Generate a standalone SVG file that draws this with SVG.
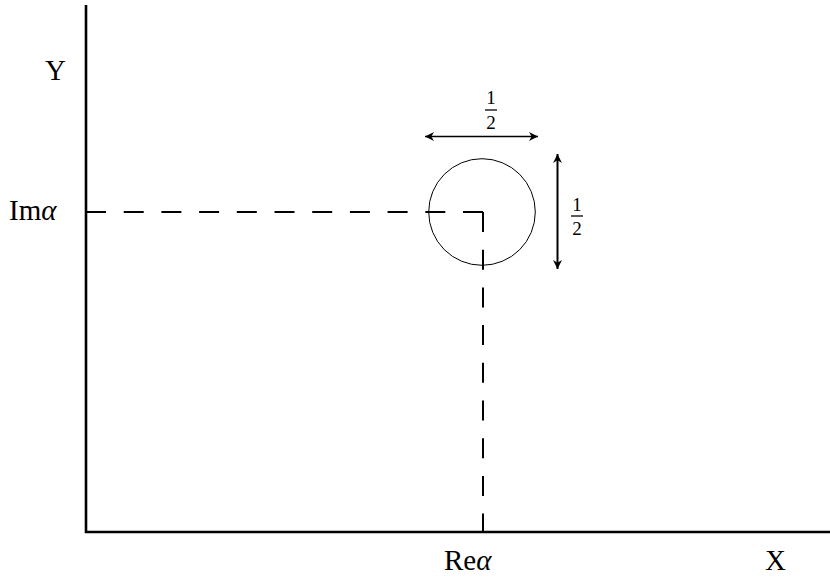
<svg xmlns="http://www.w3.org/2000/svg" width="830" height="578" viewBox="0 0 830 578">
<style>
text{font-family:"Liberation Serif","DejaVu Serif","Times New Roman",serif;fill:#000}
.lab{font-size:29px}
.frac{font-size:19px;text-anchor:middle}
.axis{stroke:#000;stroke-width:2.6;fill:none}
.dash{stroke:#000;stroke-width:2;fill:none;stroke-dasharray:20 17.7}
.dim{stroke:#000;fill:none}
</style>
<defs>
<marker id="ah" viewBox="0 0 10 10" refX="10" refY="5" markerWidth="9" markerHeight="9" markerUnits="userSpaceOnUse" orient="auto-start-reverse">
<path d="M0,0 L10,5 L0,10 L3,5 Z" fill="#000"/>
</marker>
</defs>
<rect width="830" height="578" fill="#fff"/>
<g id="axes">
<line class="axis" x1="86" y1="5" x2="86" y2="533"/>
<line class="axis" x1="85" y1="532" x2="830" y2="532"/>
</g>
<g id="connectors">
<line class="dash" x1="86" y1="212" x2="483" y2="212"/>
<line class="dash" x1="483" y1="212" x2="483" y2="532"/>
<line class="dim" stroke-width="1.6" x1="425" y1="136.5" x2="538" y2="136.5" marker-start="url(#ah)" marker-end="url(#ah)"/>
<line class="dim" stroke-width="2" x1="557.5" y1="154" x2="557.5" y2="269" marker-start="url(#ah)" marker-end="url(#ah)"/>
</g>
<g id="circle">
<circle cx="482" cy="212" r="53.3" fill="none" stroke="#000" stroke-width="1"/>
</g>
<g id="labels">
<text class="lab" x="45" y="80" font-family="Liberation Serif, serif">Y</text>
<text class="lab" x="9" y="220" font-family="Liberation Serif, serif">Im<tspan font-style="italic">α</tspan></text>
<text class="lab" x="444" y="570" font-family="Liberation Serif, serif">Re<tspan font-style="italic">α</tspan></text>
<text class="lab" x="765" y="570" font-family="Liberation Serif, serif">X</text>
</g>
<g id="frac-top">
<text class="frac" x="491" y="103.5">1</text>
<line x1="485" y1="110" x2="497" y2="110" stroke="#000" stroke-width="1.3"/>
<text class="frac" x="491" y="128.5">2</text>
</g>
<g id="frac-right">
<text class="frac" x="577" y="210.5">1</text>
<line x1="571" y1="216" x2="583" y2="216" stroke="#000" stroke-width="1.3"/>
<text class="frac" x="577" y="235">2</text>
</g>
</svg>
